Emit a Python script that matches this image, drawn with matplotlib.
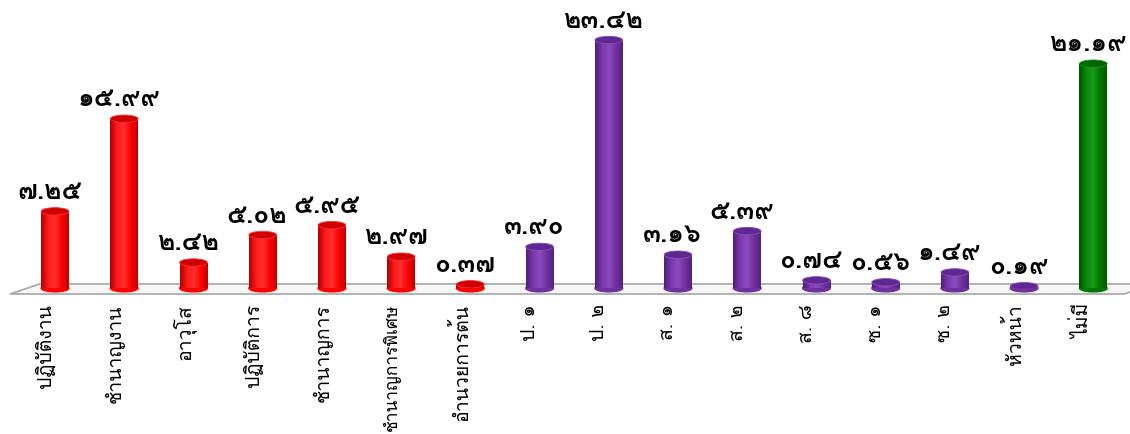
import numpy as np
import matplotlib
matplotlib.use('Agg')
import matplotlib.pyplot as plt
from matplotlib import font_manager
from matplotlib.patches import Ellipse, Polygon
from matplotlib.colors import LinearSegmentedColormap
from fontTools.ttLib import TTFont

categories = ['ปฏิบัติงาน', 'ชำนาญงาน', 'อาวุโส', 'ปฏิบัติการ', 'ชำนาญการ',
              'ชำนาญการพิเศษ', 'อำนวยการต้น', 'ป. ๑', 'ป. ๒', 'ส. ๑', 'ส. ๒',
              'ส. ๘', 'ซ. ๑', 'ซ. ๒', 'หัวหน้า', 'ไม่มี']
values = [7.25, 15.99, 2.42, 5.02, 5.95, 2.97, 0.37, 3.90, 23.42, 3.16, 5.39,
          0.74, 0.56, 1.49, 0.19, 21.19]
groups = ['red'] * 7 + ['purple'] * 8 + ['green']


def find_thai_fonts():
    names = []
    for f in font_manager.fontManager.ttflist:
        try:
            cmap = TTFont(f.fname, fontNumber=0, lazy=True).getBestCmap()
        except Exception:
            continue
        if cmap and 0x0E01 in cmap and 0x0E51 in cmap and f.name not in names:
            names.append(f.name)
    return names


thai = find_thai_fonts()
plt.rcParams['font.family'] = thai[:1] + ['DejaVu Sans']

thai_digits = str.maketrans('0123456789', '๐๑๒๓๔๕๖๗๘๙')

shades = {
    'red': ['#b00000', '#ff1a1a', '#ff3030', '#ff0000', '#c00000'],
    'purple': ['#4e1f75', '#7a38ad', '#8a4cbc', '#7030a0', '#542380'],
    'green': ['#005200', '#0a8a0a', '#1a9a1a', '#007800', '#005a00'],
}
caps = {'red': '#d00000', 'purple': '#5f2890', 'green': '#006400'}

fig = plt.figure(figsize=(11.3, 4.34), dpi=100)
ax = fig.add_axes([0, 0.336, 1, 0.664])
ax.set_xlim(-0.795, 15.53)
ax.set_ylim(0, 27.2)
ax.axis('off')

x = np.arange(len(values))
w = 0.40
eh = 0.7

# floor
floor = Polygon([(-0.65, -0.55), (15.45, -0.55), (15.85, 0.4), (-0.22, 0.4)],
                closed=True, facecolor='#f7f7f7', edgecolor='#a6a6a6',
                lw=1.2, clip_on=False, zorder=1)
ax.add_patch(floor)

grad = np.linspace(0, 1, 64).reshape(1, -1)
for xi, v, g in zip(x, values, groups):
    cmap = LinearSegmentedColormap.from_list(g, shades[g])
    bars = ax.bar(xi, v, width=w, bottom=0, color='none', zorder=3)
    im = ax.imshow(grad, cmap=cmap, aspect='auto', zorder=3,
                   extent=[xi - w / 2, xi + w / 2, 0, v])
    im.set_clip_path(bars[0])
    ax.add_patch(Ellipse((xi, 0), w, eh, color=shades[g][3], zorder=2.9,
                         clip_on=False))
    ax.add_patch(Ellipse((xi, v), w, eh, facecolor=caps[g],
                         edgecolor=shades[g][2], lw=0.6, zorder=4))
    ax.text(xi - 0.08, v + 0.7, f'{v:.2f}'.translate(thai_digits),
            ha='center', va='bottom', fontsize=19, fontweight='bold',
            zorder=5)

for xi, lab in zip(x, categories):
    # longest label shrunk a little so it stays inside the picture
    fs = 12.5 if len(lab) > 12 else 14
    ax.text(xi - 0.14, -1.5, lab, rotation=90, ha='center', va='top',
            fontsize=fs, clip_on=False)

fig.savefig('out.png', dpi=100)
